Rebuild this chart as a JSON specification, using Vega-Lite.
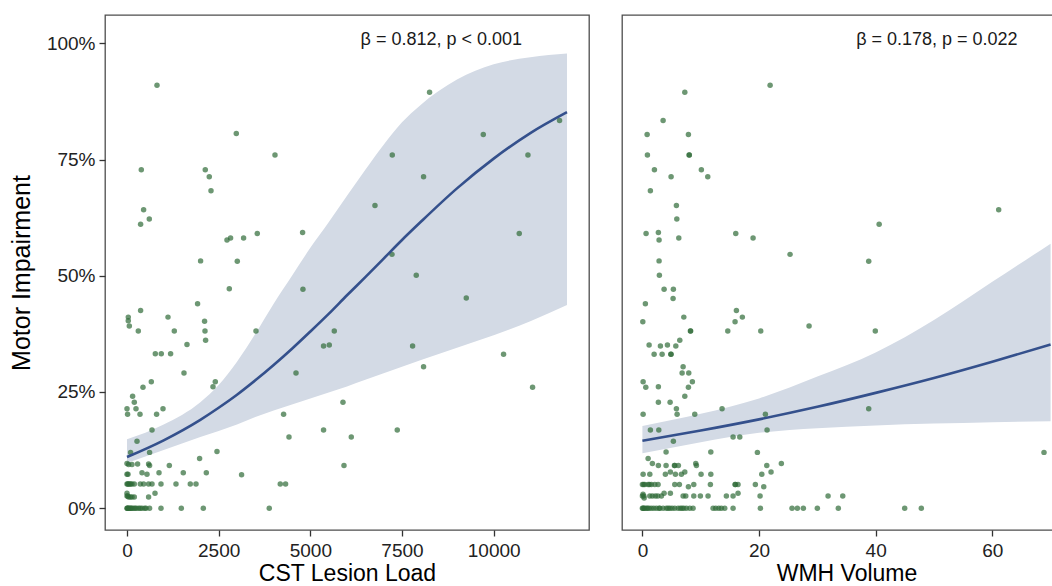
{
"$schema": "https://vega.github.io/schema/vega-lite/v6.json",
"padding": {"left": 8, "top": 14, "right": 0, "bottom": 0},
"background": "white",
"spacing": 31,
"config": {
  "font": "Liberation Sans",
  "view": {"stroke": "#4d4d4d", "strokeWidth": 1.3},
  "axis": {"grid": false, "domain": false, "tickColor": "#333333", "tickSize": 6, "tickWidth": 1.3, "labelColor": "#222222", "labelFontSize": 19, "titleFontSize": 23, "titleFontWeight": "normal", "titleColor": "#000000", "labelFont": "Liberation Sans", "titleFont": "Liberation Sans"}
},
"datasets": {
  "cstFit": [
    {"x":0,"fit":0.110,"lo":0.097,"hi":0.148},{"x":1000,"fit":0.146,"lo":0.125,"hi":0.180},{"x":2000,"fit":0.190,"lo":0.153,"hi":0.228},{"x":2500,"fit":0.216,"lo":0.166,"hi":0.265},{"x":3000,"fit":0.244,"lo":0.180,"hi":0.315},{"x":3500,"fit":0.275,"lo":0.196,"hi":0.375},{"x":4000,"fit":0.308,"lo":0.210,"hi":0.440},{"x":4500,"fit":0.343,"lo":0.223,"hi":0.500},{"x":5000,"fit":0.380,"lo":0.236,"hi":0.560},{"x":5500,"fit":0.418,"lo":0.249,"hi":0.615},{"x":6000,"fit":0.458,"lo":0.262,"hi":0.672},{"x":6500,"fit":0.497,"lo":0.276,"hi":0.728},{"x":7000,"fit":0.537,"lo":0.290,"hi":0.782},{"x":7500,"fit":0.577,"lo":0.304,"hi":0.830},{"x":8000,"fit":0.615,"lo":0.318,"hi":0.867},{"x":9000,"fit":0.688,"lo":0.345,"hi":0.922},{"x":10000,"fit":0.752,"lo":0.372,"hi":0.955},{"x":11000,"fit":0.807,"lo":0.402,"hi":0.970},{"x":12000,"fit":0.852,"lo":0.437,"hi":0.978}
  ],
  "wmhFit": [
    {"x":0,"fit":0.145,"lo":0.118,"hi":0.177},{"x":10,"fit":0.167,"lo":0.142,"hi":0.203},{"x":20,"fit":0.191,"lo":0.162,"hi":0.236},{"x":30,"fit":0.218,"lo":0.172,"hi":0.283},{"x":40,"fit":0.248,"lo":0.178,"hi":0.335},{"x":50,"fit":0.280,"lo":0.182,"hi":0.405},{"x":60,"fit":0.315,"lo":0.185,"hi":0.487},{"x":70,"fit":0.352,"lo":0.187,"hi":0.569}
  ],
  "cstPts": [
    {"x":818,"y":0.910},{"x":2981,"y":0.806},{"x":4036,"y":0.760},{"x":8252,"y":0.895},{"x":390,"y":0.728},{"x":2135,"y":0.728},{"x":2244,"y":0.713},{"x":2291,"y":0.683},{"x":7235,"y":0.760},{"x":8088,"y":0.713},{"x":9717,"y":0.804},{"x":10935,"y":0.760},{"x":11797,"y":0.834},{"x":453,"y":0.642},{"x":608,"y":0.622},{"x":371,"y":0.611},{"x":6763,"y":0.651},{"x":2727,"y":0.577},{"x":2825,"y":0.581},{"x":3180,"y":0.581},{"x":3553,"y":0.591},{"x":4789,"y":0.593},{"x":10698,"y":0.591},{"x":2007,"y":0.532},{"x":3008,"y":0.531},{"x":7227,"y":0.546},{"x":7889,"y":0.501},{"x":2790,"y":0.472},{"x":4799,"y":0.471},
    {"x":9253,"y":0.452},{"x":1925,"y":0.440},{"x":371,"y":0.425},{"x":35,"y":0.411},{"x":35,"y":0.403},{"x":63,"y":0.392},{"x":1118,"y":0.411},{"x":308,"y":0.381},{"x":1290,"y":0.381},{"x":2116,"y":0.402},{"x":2127,"y":0.381},{"x":2144,"y":0.361},{"x":3518,"y":0.381},{"x":5653,"y":0.381},{"x":1636,"y":0.352},{"x":5361,"y":0.349},{"x":5517,"y":0.351},{"x":7789,"y":0.349},{"x":772,"y":0.332},{"x":935,"y":0.332},{"x":1189,"y":0.332},{"x":10270,"y":0.331},{"x":1554,"y":0.291},{"x":4609,"y":0.291},{"x":8088,"y":0.304},{"x":663,"y":0.272},{"x":436,"y":0.260},{"x":2408,"y":0.272},{"x":2345,"y":0.261},{"x":11061,"y":0.260},{"x":153,"y":0.241},{"x":199,"y":0.228},{"x":0,"y":0.214},{"x":245,"y":0.214},{"x":982,"y":0.214},{"x":16,"y":0.202},{"x":355,"y":0.202},{"x":807,"y":0.202},{"x":5890,"y":0.228},{"x":4271,"y":0.202},{"x":682,"y":0.168},{"x":5361,"y":0.168},{"x":7371,"y":0.168},{"x":4418,"y":0.153},{"x":6117,"y":0.153},{"x":273,"y":0.144},{"x":98,"y":0.120},{"x":616,"y":0.120},{"x":2454,"y":0.122},{"x":1980,"y":0.107},{"x":5918,"y":0.092},
    {"x":0,"y":0.096},{"x":44,"y":0.094},{"x":136,"y":0.094},{"x":289,"y":0.095},{"x":589,"y":0.095},{"x":616,"y":0.092},{"x":1154,"y":0.092},
    {"x":0,"y":0.073},{"x":27,"y":0.073},{"x":409,"y":0.076},{"x":545,"y":0.073},{"x":873,"y":0.076},{"x":1535,"y":0.076},{"x":2163,"y":0.076},{"x":3125,"y":0.072},
    {"x":0,"y":0.052},{"x":20,"y":0.052},{"x":40,"y":0.052},{"x":71,"y":0.052},{"x":100,"y":0.052},{"x":136,"y":0.052},{"x":199,"y":0.052},{"x":363,"y":0.052},{"x":453,"y":0.052},{"x":589,"y":0.052},{"x":682,"y":0.052},{"x":927,"y":0.052},{"x":1336,"y":0.052},{"x":1726,"y":0.052},{"x":1882,"y":0.052},{"x":4180,"y":0.052},{"x":4325,"y":0.052},
    {"x":0,"y":0.032},{"x":0,"y":0.026},{"x":20,"y":0.026},{"x":44,"y":0.024},{"x":90,"y":0.024},{"x":136,"y":0.024},{"x":199,"y":0.024},{"x":589,"y":0.024},{"x":764,"y":0.032},
    {"x":0,"y":0},{"x":10,"y":0},{"x":20,"y":0},{"x":44,"y":0},{"x":60,"y":0},{"x":90,"y":0},{"x":110,"y":0},{"x":136,"y":0},{"x":180,"y":0},{"x":220,"y":0},{"x":254,"y":0},{"x":316,"y":0},{"x":360,"y":0},{"x":409,"y":0},{"x":480,"y":0},{"x":520,"y":0},{"x":616,"y":0},{"x":927,"y":0},{"x":1481,"y":0},{"x":2081,"y":0},{"x":3880,"y":0}
  ],
  "wmhPts": [
    {"x":21.9,"y":0.910},{"x":7.27,"y":0.895},{"x":3.55,"y":0.834},{"x":0.81,"y":0.804},{"x":7.89,"y":0.804},{"x":0.86,"y":0.760},{"x":8.01,"y":0.760},{"x":8.05,"y":0.760},{"x":2.06,"y":0.728},{"x":4.92,"y":0.713},{"x":10.11,"y":0.728},{"x":11.21,"y":0.713},{"x":1.37,"y":0.683},{"x":5.83,"y":0.651},{"x":5.90,"y":0.622},{"x":61.1,"y":0.642},{"x":40.6,"y":0.611},{"x":0.63,"y":0.591},{"x":2.74,"y":0.593},{"x":2.86,"y":0.577},{"x":6.24,"y":0.581},{"x":16.01,"y":0.591},{"x":18.98,"y":0.581},{"x":25.32,"y":0.546},{"x":38.81,"y":0.531},{"x":2.86,"y":0.532},{"x":2.91,"y":0.501},
    {"x":3.72,"y":0.471},{"x":5.31,"y":0.471},{"x":5.26,"y":0.451},{"x":0.51,"y":0.440},{"x":0.07,"y":0.401},{"x":7.10,"y":0.411},{"x":8.23,"y":0.381},{"x":8.27,"y":0.381},{"x":16.12,"y":0.425},{"x":17.14,"y":0.411},{"x":15.89,"y":0.401},{"x":14.64,"y":0.381},{"x":20.30,"y":0.381},{"x":28.58,"y":0.392},{"x":39.94,"y":0.381},{"x":1.15,"y":0.351},{"x":3.09,"y":0.349},{"x":4.29,"y":0.351},{"x":5.73,"y":0.349},{"x":6.41,"y":0.361},{"x":2.01,"y":0.331},{"x":3.38,"y":0.331},{"x":4.87,"y":0.331},{"x":4.92,"y":0.331},{"x":6.98,"y":0.304},{"x":6.81,"y":0.291},{"x":7.95,"y":0.291},{"x":8.57,"y":0.272},{"x":7.89,"y":0.260},{"x":7.27,"y":0.241},{"x":0.12,"y":0.272},{"x":0.58,"y":0.260},{"x":2.74,"y":0.261},{"x":2.74,"y":0.228},{"x":4.75,"y":0.228},{"x":5.83,"y":0.214},{"x":5.95,"y":0.202},{"x":0.12,"y":0.202},{"x":8.98,"y":0.202},{"x":13.66,"y":0.214},{"x":21.09,"y":0.202},{"x":38.81,"y":0.214},{"x":1.37,"y":0.168},{"x":2.81,"y":0.168},{"x":21.38,"y":0.168},{"x":5.31,"y":0.144},{"x":15.55,"y":0.153},{"x":16.70,"y":0.153},{"x":4.06,"y":0.121},{"x":11.73,"y":0.121},{"x":19.72,"y":0.120},{"x":68.87,"y":0.120},{"x":0.98,"y":0.107},{"x":1.71,"y":0.096},{"x":2.74,"y":0.092},{"x":4.06,"y":0.092},{"x":5.49,"y":0.092},{"x":5.55,"y":0.092},{"x":6.17,"y":0.092},{"x":9.15,"y":0.096},{"x":9.26,"y":0.092},{"x":21.33,"y":0.092},{"x":23.83,"y":0.096},
    {"x":0.12,"y":0.073},{"x":1.27,"y":0.073},{"x":3.94,"y":0.073},{"x":4.80,"y":0.078},{"x":5.66,"y":0.073},{"x":6.69,"y":0.073},{"x":7.27,"y":0.078},{"x":10.06,"y":0.073},{"x":11.73,"y":0.073},{"x":20.47,"y":0.073},{"x":22.06,"y":0.078},
    {"x":0,"y":0.051},{"x":0.2,"y":0.051},{"x":0.41,"y":0.051},{"x":0.98,"y":0.051},{"x":1.2,"y":0.051},{"x":1.54,"y":0.051},{"x":2.13,"y":0.051},{"x":2.69,"y":0.051},{"x":5.55,"y":0.051},{"x":6.34,"y":0.051},{"x":7.89,"y":0.046},{"x":8.81,"y":0.051},{"x":11.66,"y":0.051},{"x":15.89,"y":0.051},{"x":15.95,"y":0.051},{"x":16.40,"y":0.051},{"x":19.37,"y":0.051},{"x":20.81,"y":0.046},
    {"x":0,"y":0.026},{"x":0.1,"y":0.030},{"x":0.24,"y":0.026},{"x":0.3,"y":0.022},{"x":1.27,"y":0.026},{"x":1.71,"y":0.026},{"x":2.23,"y":0.026},{"x":2.64,"y":0.026},{"x":3.26,"y":0.026},{"x":3.72,"y":0.032},{"x":4.80,"y":0.032},{"x":6.98,"y":0.026},{"x":7.44,"y":0.026},{"x":8.81,"y":0.026},{"x":9.94,"y":0.026},{"x":11.26,"y":0.026},{"x":14.40,"y":0.026},{"x":15.55,"y":0.026},{"x":16.40,"y":0.032},{"x":20.18,"y":0.026},{"x":31.84,"y":0.026},{"x":34.36,"y":0.026},
    {"x":0,"y":0},{"x":0.1,"y":0},{"x":0.24,"y":0},{"x":0.4,"y":0},{"x":0.69,"y":0},{"x":0.9,"y":0},{"x":1.15,"y":0},{"x":1.54,"y":0},{"x":1.95,"y":0},{"x":2.40,"y":0},{"x":2.86,"y":0},{"x":3.0,"y":0},{"x":3.55,"y":0},{"x":4.11,"y":0},{"x":4.4,"y":0},{"x":4.70,"y":0},{"x":5.09,"y":0},{"x":5.55,"y":0},{"x":6.12,"y":0},{"x":6.51,"y":0},{"x":6.8,"y":0},{"x":7.10,"y":0},{"x":7.54,"y":0},{"x":8.13,"y":0},{"x":8.69,"y":0},{"x":12.12,"y":0},{"x":12.58,"y":0},{"x":13.10,"y":0},{"x":13.54,"y":0},{"x":14.12,"y":0},{"x":15.55,"y":0},{"x":20.23,"y":0},{"x":25.66,"y":0},{"x":26.57,"y":0},{"x":27.60,"y":0},{"x":30.00,"y":0},{"x":33.60,"y":0},{"x":44.98,"y":0},{"x":47.83,"y":0}
  ]
},
"hconcat": [
  {
    "width": 484, "height": 515,
    "layer": [
      {"data": {"name": "cstFit"}, "mark": {"type": "area", "color": "#d3dae5", "interpolate": "monotone"},
       "encoding": {
         "x": {"field": "x", "type": "quantitative", "title": "CST Lesion Load", "scale": {"domain": [-600, 12600], "nice": false, "zero": false}, "axis": {"values": [0, 2500, 5000, 7500, 10000], "format": "d", "labelPadding": 5, "titlePadding": 2}},
         "y": {"field": "hi", "type": "quantitative", "title": "Motor Impairment", "scale": {"domain": [-0.047, 1.061], "nice": false, "zero": false}, "axis": {"values": [0, 0.25, 0.5, 0.75, 1], "format": ".0%", "labelPadding": 4, "titlePadding": 12, "titleFontSize": 25}},
         "y2": {"field": "lo"}}},
      {"data": {"name": "cstPts"}, "mark": {"type": "circle", "color": "#2f6b37", "opacity": 0.7, "size": 30},
       "encoding": {"x": {"field": "x", "type": "quantitative", "title": "CST Lesion Load"}, "y": {"field": "y", "type": "quantitative", "title": "Motor Impairment"}}},
      {"data": {"name": "cstFit"}, "mark": {"type": "line", "color": "#34508c", "strokeWidth": 2.6, "interpolate": "monotone"},
       "encoding": {"x": {"field": "x", "type": "quantitative", "title": "CST Lesion Load"}, "y": {"field": "fit", "type": "quantitative", "title": "Motor Impairment"}}},
      {"data": {"values": [{"x": 8571, "y": 0.996, "label": "β = 0.812, p < 0.001"}]}, "mark": {"type": "text", "fontSize": 18, "align": "center", "baseline": "alphabetic", "color": "#1a1a1a", "font": "Liberation Sans"},
       "encoding": {"x": {"field": "x", "type": "quantitative", "title": "CST Lesion Load"}, "y": {"field": "y", "type": "quantitative", "title": "Motor Impairment"}, "text": {"field": "label"}}}
    ]
  },
  {
    "width": 449, "height": 515,
    "layer": [
      {"data": {"name": "wmhFit"}, "mark": {"type": "area", "color": "#d3dae5", "interpolate": "monotone"},
       "encoding": {
         "x": {"field": "x", "type": "quantitative", "title": "WMH Volume", "scale": {"domain": [-3.5, 73.5], "nice": false, "zero": false}, "axis": {"values": [0, 20, 40, 60], "format": "d", "labelPadding": 5, "titlePadding": 2}},
         "y": {"field": "hi", "type": "quantitative", "scale": {"domain": [-0.047, 1.061], "nice": false, "zero": false}, "axis": null},
         "y2": {"field": "lo"}}},
      {"data": {"name": "wmhPts"}, "mark": {"type": "circle", "color": "#2f6b37", "opacity": 0.7, "size": 30},
       "encoding": {"x": {"field": "x", "type": "quantitative", "title": "WMH Volume"}, "y": {"field": "y", "type": "quantitative", "axis": null}}},
      {"data": {"name": "wmhFit"}, "mark": {"type": "line", "color": "#34508c", "strokeWidth": 2.6, "interpolate": "monotone"},
       "encoding": {"x": {"field": "x", "type": "quantitative", "title": "WMH Volume"}, "y": {"field": "fit", "type": "quantitative", "axis": null}}},
      {"data": {"values": [{"x": 50.5, "y": 0.996, "label": "β = 0.178, p = 0.022"}]}, "mark": {"type": "text", "fontSize": 18, "align": "center", "baseline": "alphabetic", "color": "#1a1a1a", "font": "Liberation Sans"},
       "encoding": {"x": {"field": "x", "type": "quantitative", "title": "WMH Volume"}, "y": {"field": "y", "type": "quantitative", "axis": null}, "text": {"field": "label"}}}
    ]
  }
]
}
